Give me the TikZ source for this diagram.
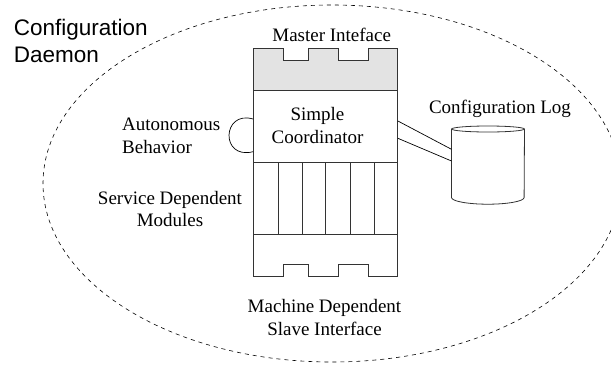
\documentclass[tikz,border=0pt]{standalone}
\usepackage{fontspec}
\setmainfont{Liberation Serif}
\newfontfamily\sansf{Liberation Sans}
\begin{document}
\begin{tikzpicture}[x=1pt,y=-1pt,
  lbl/.style={font=\fontsize{19}{22.5}\selectfont, inner sep=0pt, align=center},
  boxline/.style={draw=black!80, line width=0.8pt},
  daemon/.style={draw=black, dash pattern=on 4pt off 4pt, line width=0.6pt},
  thinline/.style={draw=black, line width=0.7pt}]
\useasboundingbox (0,0) rectangle (611,365);
% daemon boundary
\draw[daemon] (332,183.5) ellipse [x radius=289, y radius=178.5];
% main stack
\node (core) [rectangle, minimum width=144.4pt, minimum height=228pt, inner sep=0pt] at (325.5,162.3) {};
\fill[black!11] (253.3,90) -- (253.3,48.3) -- (283.5,48.3) -- (283.5,60.5) -- (308.5,60.5) -- (308.5,48.3)
  -- (338,48.3) -- (338,60.5) -- (368.3,60.5) -- (368.3,48.3) -- (397.7,48.3) -- (397.7,90) -- cycle;
\draw[boxline] (253.3,276.3) -- (253.3,48.3) -- (283.5,48.3) -- (283.5,60.5) -- (308.5,60.5) -- (308.5,48.3)
  -- (338,48.3) -- (338,60.5) -- (368.3,60.5) -- (368.3,48.3) -- (397.7,48.3) -- (397.7,276.3)
  -- (368.3,276.3) -- (368.3,264.3) -- (338,264.3) -- (338,276.3) -- (308.5,276.3) -- (308.5,264.3)
  -- (283.5,264.3) -- (283.5,276.3) -- cycle;
\draw[boxline] (253.3,90) -- (397.7,90);
\draw[boxline] (253.3,162.3) -- (397.7,162.3);
\draw[boxline] (253.3,234.3) -- (397.7,234.3);
\foreach \mx in {277.9,302,325.8,350,374.1}
  \draw[boxline] (\mx,162.3) -- (\mx,234.3);
% configuration log cylinder
\node (logcyl) [rectangle, minimum width=72.6pt, minimum height=68.3pt, inner sep=0pt] at (488,163.15) {};
\draw[boxline] (488,129) ellipse [x radius=36.3, y radius=3];
\draw[boxline] (logcyl.north west) -- (logcyl.south west)
  arc[start angle=180, end angle=0, x radius=36.3, y radius=6.7] -- (logcyl.north east);
% connectors
\draw[thinline] ([yshift=41.3pt]core.east) -- ([yshift=13.85pt]logcyl.west);
\draw[thinline] ([yshift=24pt]core.east) -- ([yshift=2.15pt]logcyl.west);
% autonomous behaviour loop
\draw[thinline] ([yshift=43.3pt]core.west) .. controls (222,110) and (220,160) .. ([yshift=10.6pt]core.west);
% labels
\node (daemonlbl) [anchor=base west, inner sep=0pt, align=left, font=\sansf\fontsize{22.5}{27.7}\selectfont] at (13.6,62.7) {Configuration\\Daemon};
\node (master) [lbl, anchor=base] at (331.7,41.7) {Master Inteface};
\node (coord) [lbl, anchor=base] at (317.5,143.3) {Simple\\Coordinator};
\node (auton) [lbl, align=left, anchor=base west] at (122,153.3) {Autonomous\\Behavior};
\node (svc) [lbl, anchor=base] at (170,226.7) {Service Dependent\\Modules};
\node (loglbl) [lbl, anchor=base] at (500,113.3) {Configuration Log};
\node (slave) [lbl, anchor=base] at (324.5,335) {Machine Dependent\\Slave Interface};
\end{tikzpicture}
\end{document}
